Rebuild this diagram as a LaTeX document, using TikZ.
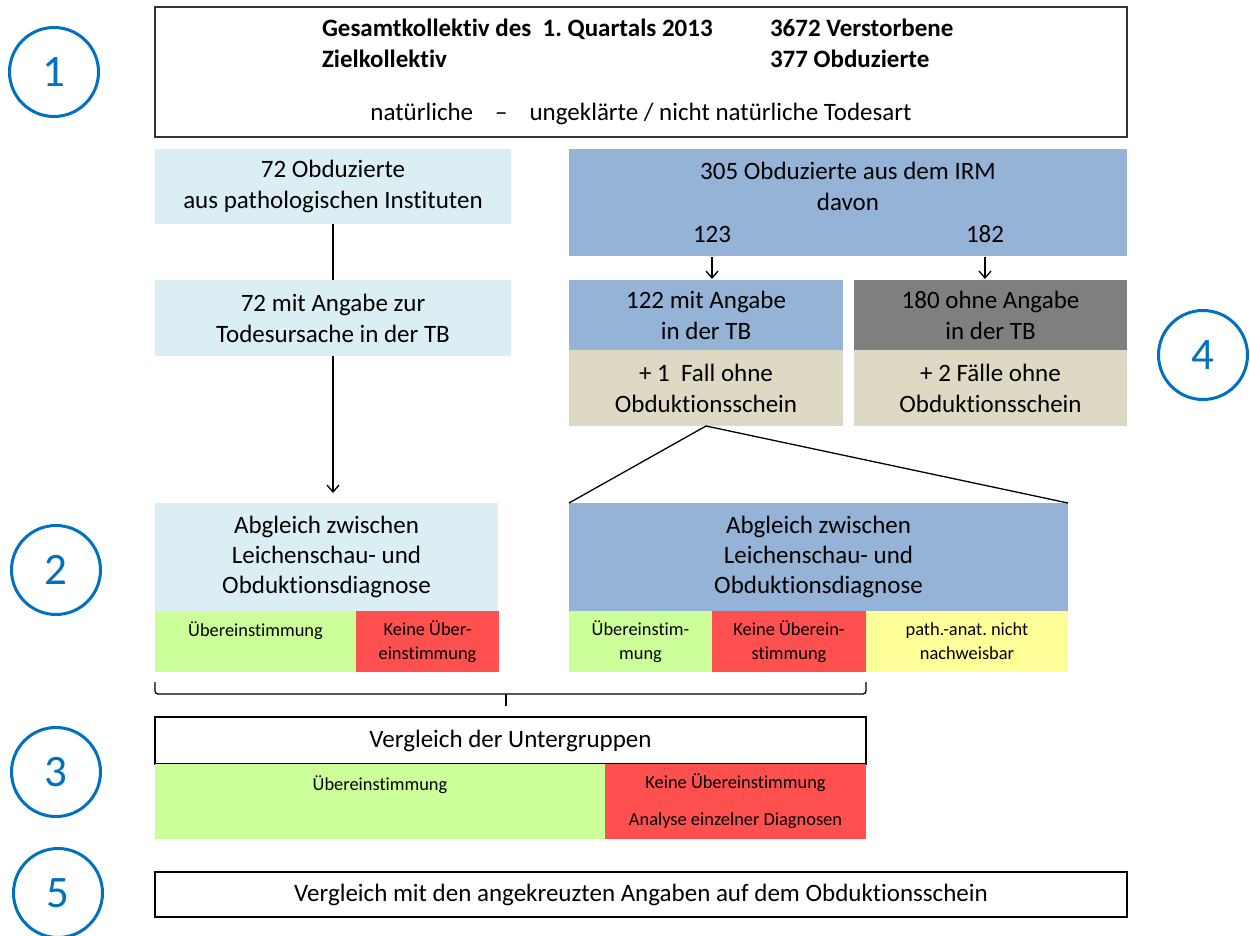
\documentclass[tikz,border=0pt]{standalone}
\usepackage{fontspec}
\setmainfont{Carlito}[Ligatures={NoCommon,NoContextual,NoRare}]
\usetikzlibrary{arrows.meta}
\definecolor{lblue}{HTML}{DAEEF3}
\definecolor{mblue}{HTML}{95B3D7}
\definecolor{dgray}{HTML}{7F7F7F}
\definecolor{beige}{HTML}{DDD9C4}
\definecolor{lgreen}{HTML}{CCFF99}
\definecolor{lred}{HTML}{FF5050}
\definecolor{lyellow}{HTML}{FFFF99}
\definecolor{cblue}{HTML}{0070C0}
\frenchspacing
\begin{document}
\begin{tikzpicture}[x=1pt,y=-1pt,
  big/.style={font=\fontsize{25}{31}\selectfont},
  bigc/.style={font=\fontsize{25}{30}\selectfont},
  bigb/.style={font=\fontsize{25}{31}\selectfont\bfseries},
  small/.style={font=\fontsize{18.4}{24}\selectfont},
  cell/.style={inner sep=0pt, outer sep=0pt, align=center},
  num/.style={circle, draw=cblue, line width=3pt, minimum size=89pt, inner sep=0pt, text=cblue, font=\fontsize{45}{45}\selectfont},
  conn/.style={line width=1.3pt},
  arr/.style={conn, -{Straight Barb[length=7pt,width=12pt]}}]
\useasboundingbox (0,0) rectangle (1250,936);

% step 1
\node[num] (c1) at (54,72) {1};
\node[cell, draw=black!80, line width=1.2pt, minimum width=972pt, minimum height=130pt] (top) at (641,72) {};
\node[cell, bigb, anchor=base west] (t1) at (322,37) {Gesamtkollektiv des\ \ 1. Quartals 2013};
\node[cell, bigb, anchor=base west] (t2) at (770,37) {3672 Verstorbene};
\node[cell, bigb, anchor=base west] (t3) at (322,68) {Zielkollektiv};
\node[cell, bigb, anchor=base west] (t4) at (770,68) {377 Obduzierte};
\node[cell, big, anchor=base] (t5) at (641,121) {natürliche\hspace*{22pt}–\hspace*{22pt}ungeklärte / nicht natürliche Todesart};

% left column
\node[cell, big, fill=lblue, minimum width=356pt, minimum height=75pt] (a1) at (333,186.5) {72 Obduzierte\\aus pathologischen Instituten};
\node[cell, big, fill=lblue, minimum width=356pt, minimum height=76pt] (a2) at (333,318) {72 mit Angabe zur\\Todesursache in der TB};

% right column
\node[cell, fill=mblue, minimum width=558pt, minimum height=107pt] (b1) at (848,202.5) {};
\node[cell, big] (b1t) at (848,186.5) {305 Obduzierte aus dem IRM\\davon};
\node[cell, big, anchor=base] (n123) at (712,242) {123};
\node[cell, big, anchor=base] (n182) at (985,242) {182};
\node[cell, big, fill=mblue, minimum width=274pt, minimum height=70pt] (b2) at (706,315) {122 mit Angabe\\in der TB};
\node[cell, big, fill=dgray, minimum width=273pt, minimum height=70pt] (b3) at (990.5,315) {180 ohne Angabe\\in der TB};
\node[cell, big, fill=beige, minimum width=274pt, minimum height=76pt] (b4) at (706,388) {+ 1\ \ Fall ohne\\Obduktionsschein};
\node[cell, big, fill=beige, minimum width=273pt, minimum height=76pt] (b5) at (990.5,388) {+ 2 Fälle ohne\\Obduktionsschein};
\node[num] (c4) at (1203,355) {4};

% step 2
\node[num] (c2) at (56,570) {2};
\node[cell, bigc, fill=lblue, minimum width=343pt, minimum height=108pt] (ab1) at (326.5,557) {Abgleich zwischen\\Leichenschau- und\\Obduktionsdiagnose};
\node[cell, bigc, fill=mblue, minimum width=499pt, minimum height=108pt] (ab2) at (818.5,557) {Abgleich zwischen\\Leichenschau- und\\Obduktionsdiagnose};
\node[cell, small, fill=lgreen, minimum width=201pt, minimum height=61pt] (g1) at (255.5,641.5) {Übereinstimmung\\~};
\node[cell, small, fill=lred, minimum width=143pt, minimum height=61pt] (r1) at (427.5,641.5) {Keine Über-\\einstimmung};
\node[cell, small, fill=lgreen, minimum width=143pt, minimum height=61pt] (g2) at (640.5,641.5) {Übereinstim-\\mung};
\node[cell, small, fill=lred, minimum width=154pt, minimum height=61pt] (r2) at (789,641.5) {Keine Überein-\\stimmung};
\node[cell, small, fill=lyellow, minimum width=202pt, minimum height=61pt] (y2) at (967,641.5) {path.-anat. nicht\\nachweisbar};

% step 3
\node[num] (c3) at (56,772) {3};
\node[cell, big, draw=black, line width=1.2pt, minimum width=711pt, minimum height=47pt] (vg) at (510.5,740.5) {Vergleich der Untergruppen};
\node[cell, small, fill=lgreen, minimum width=450pt, minimum height=75pt] (g3) at (380,801.5) {Übereinstimmung\\[13pt]~};
\node[cell, small, fill=lred, minimum width=261pt, minimum height=75pt] (r3) at (735.5,801.5) {Keine Übereinstimmung\\[13pt]Analyse einzelner Diagnosen};

% step 5
\node[num] (c5) at (58,893) {5};
\node[cell, big, draw=black, line width=1.2pt, minimum width=972pt, minimum height=45pt] (f5) at (641,894.5) {Vergleich mit den angekreuzten Angaben auf dem Obduktionsschein};

% connectors
\draw[conn] (a1.south) -- (a2.north);
\draw[arr] (a2.south) -- ([yshift=10pt]a2.south |- ab1.north);
\draw[arr] ([yshift=-1pt]n123.center |- b1.south) -- ([yshift=1pt]n123.center |- b2.north);
\draw[arr] ([yshift=-1pt]n182.center |- b1.south) -- ([yshift=1pt]n182.center |- b3.north);
\draw[conn] (ab2.north west) -- (b4.south) -- (ab2.north east);
\coordinate (bm) at (506,694);
\draw[conn, rounded corners=3pt] ([yshift=-10pt]g1.south west) |- (bm) -| ([yshift=-10pt]r2.south east);
\draw[conn] (bm) -- ([yshift=11pt]bm |- vg.north);
\end{tikzpicture}
\end{document}
